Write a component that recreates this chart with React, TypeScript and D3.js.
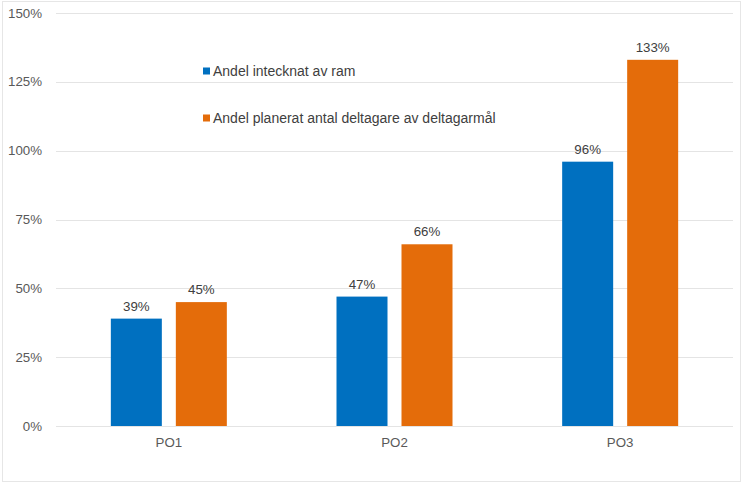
import React from "react";
import * as d3 from "d3";

const categories = ["PO1", "PO2", "PO3"];
const seriesNames = ["Andel intecknat av ram", "Andel planerat antal deltagare av deltagarmål"];
const seriesA = [39, 47, 96];
const seriesB = [45, 66, 133];
const yTicks = [0, 25, 50, 75, 100, 125, 150];
const colors = ["#0070C0", "#E46C0A"];

export default function App() {
  const W = 744, H = 485;
  const left = 56, right = 733, top = 13, bottom = 426;
  const x = d3.scaleBand<string>().domain(categories).range([left, right]).paddingInner(0).paddingOuter(0);
  const y = d3.scaleLinear().domain([0, 150]).range([bottom, top]);
  const barW = 51;
  const gap = 14;
  const series = [seriesA, seriesB];
  const font = "'Liberation Sans', Arial, sans-serif";
  return (
    <svg width={W} height={H} style={{ position: "absolute", left: 0, top: 0, background: "#fff" }} fontFamily={font}>
      <rect x={2.5} y={1.5} width={738} height={480} fill="#fff" stroke="#e6e6e6" strokeWidth={1} />
      {yTicks.map((t) => (
        <g key={t}>
          <line x1={left} x2={right} y1={Math.round(y(t)) + 0.5} y2={Math.round(y(t)) + 0.5} stroke="#e4e4e4" strokeWidth={1} />
          <text x={42} y={y(t)} dy="0.35em" textAnchor="end" fontSize={13.3} fill="#595959">{t}%</text>
        </g>
      ))}
      {categories.map((c, i) => {
        const cx = (x(c) as number) + x.bandwidth() / 2;
        const groupW = barW * 2 + gap;
        return (
          <g key={c}>
            {series.map((s, j) => {
              const bx = cx - groupW / 2 + j * (barW + gap);
              return (
                <g key={j}>
                  <rect x={bx} y={y(s[i])} width={barW} height={y(0) - y(s[i])} fill={colors[j]} />
                  <text x={bx + barW / 2} y={y(s[i]) - 8} textAnchor="middle" fontSize={13.3} fill="#404040">{s[i]}%</text>
                </g>
              );
            })}
            <text x={cx} y={442} dy="0.35em" textAnchor="middle" fontSize={13.3} fill="#595959">{c}</text>
          </g>
        );
      })}
      {seriesNames.map((n, j) => (
        <g key={n}>
          <rect x={203} y={(j === 0 ? 71 : 118) - 3.5} width={7} height={7} fill={colors[j]} />
          <text x={213} y={j === 0 ? 71 : 118} dy="0.35em" fontSize={14} fill="#404040">{n}</text>
        </g>
      ))}
    </svg>
  );
}
